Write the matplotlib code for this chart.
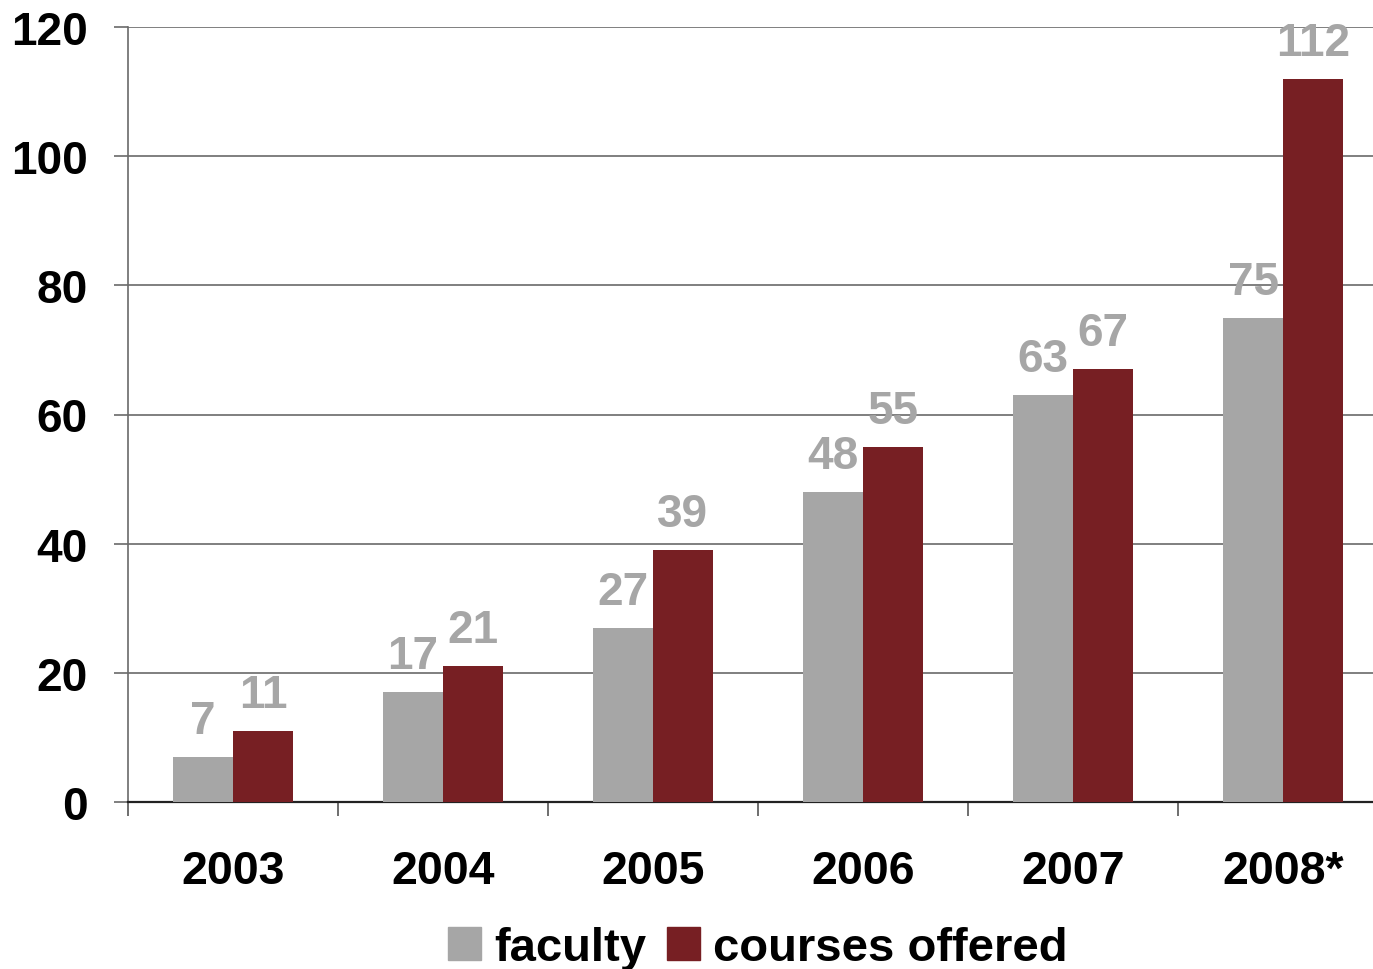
import matplotlib.pyplot as plt
import numpy as np
from matplotlib.patches import Patch

plt.rcParams['font.family'] = ['Liberation Sans', 'DejaVu Sans']
plt.rcParams['font.weight'] = 'bold'

# data
years = ["2003", "2004", "2005", "2006", "2007", "2008*"]
faculty = [7, 17, 27, 48, 63, 75]
courses = [11, 21, 39, 55, 67, 112]

grey = '#a6a6a6'
red = '#771f23'

fig = plt.figure(figsize=(13.73, 9.70), dpi=100)
# axes runs off the right edge like in the original slide
ax = fig.add_axes([128 / 1373, 167 / 970, 1260 / 1373, 775 / 970])

x = np.arange(len(years))
w = 0.285
b1 = ax.bar(x - w / 2, faculty, w, color=grey, zorder=3)
b2 = ax.bar(x + w / 2, courses, w, color=red, zorder=3)

for bars, vals in ((b1, faculty), (b2, courses)):
    for r, v in zip(bars, vals):
        ax.annotate(str(v), (r.get_x() + r.get_width() / 2, v),
                    xytext=(0, 10), textcoords='offset points',
                    ha='center', va='bottom', color=grey,
                    fontsize=33, fontweight='bold', zorder=4)

ax.set_xlim(-0.5, 5.5)
ax.set_ylim(0, 120)
ax.set_yticks(range(0, 121, 20))
ax.yaxis.grid(True, color='#6a6a6a', lw=1.2, zorder=0)

# year labels centred, tick marks on category boundaries
ax.set_xticks(x)
ax.set_xticklabels(years, fontsize=33.5, fontweight='bold')
ax.tick_params(axis='x', length=0, pad=34)
ax.set_xticks(np.arange(-0.5, 6.0, 1.0), minor=True)
ax.tick_params(axis='x', which='minor', length=10, width=1.2, color='#555555',
               direction='out')
ax.tick_params(axis='y', labelsize=33, length=10, width=1.2, color='#6a6a6a',
               pad=19)
for lab in ax.get_yticklabels():
    lab.set_fontweight('bold')

ax.spines['top'].set_visible(False)
ax.spines['right'].set_visible(False)
ax.spines['left'].set_color('#6a6a6a')
ax.spines['left'].set_linewidth(1.2)
ax.spines['bottom'].set_color('#222222')
ax.spines['bottom'].set_linewidth(1.6)

handles = [Patch(color=grey, label='faculty'), Patch(color=red, label='courses offered')]
leg = fig.legend(handles=handles, loc='center', bbox_to_anchor=(0.552, 0.022),
                 ncol=2, frameon=False, handlelength=0.7, handleheight=0.7,
                 handletextpad=0.28, columnspacing=0.42, borderpad=0,
                 prop={'size': 34, 'weight': 'bold'})

fig.savefig('out.png', dpi=100)
